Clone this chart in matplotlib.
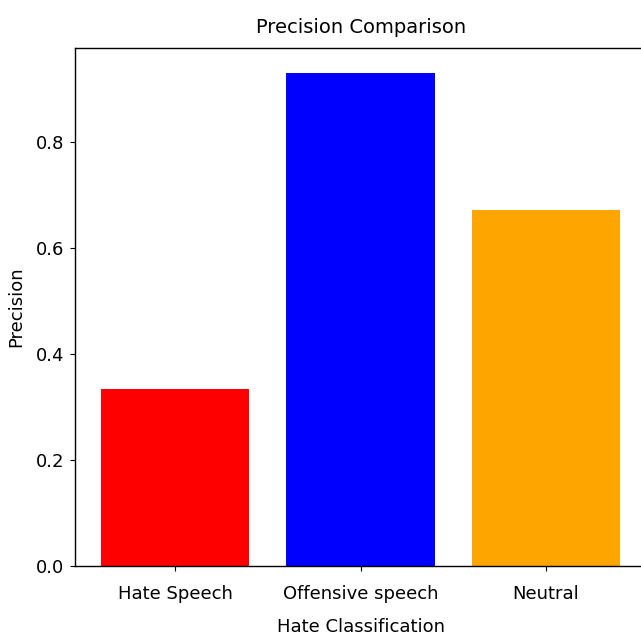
import matplotlib.pyplot as plt

# Precision per class
classes = ['Hate Speech', 'Offensive speech', 'Neutral']
precision = [0.335, 0.931, 0.671]
bar_colors = ['red', 'blue', 'orange']

plt.rcParams['font.family'] = ['Liberation Sans Narrow', 'DejaVu Sans']

fig = plt.figure(figsize=(6.41, 6.37), dpi=100)
ax = fig.add_axes([0.117, 0.1115, 0.891, 0.813])

ax.bar(classes, precision, color=bar_colors)
ax.set_title('Precision Comparison', fontsize=14, pad=11)
ax.set_xlabel('Hate Classification', fontsize=13, labelpad=11)
ax.set_ylabel('Precision', fontsize=13, labelpad=8)
ax.tick_params(axis='y', labelsize=13, pad=4)
ax.tick_params(axis='x', labelsize=13, pad=10)

for s in ax.spines.values():
    s.set_linewidth(1.0)

fig.savefig('out.png', dpi=100)
